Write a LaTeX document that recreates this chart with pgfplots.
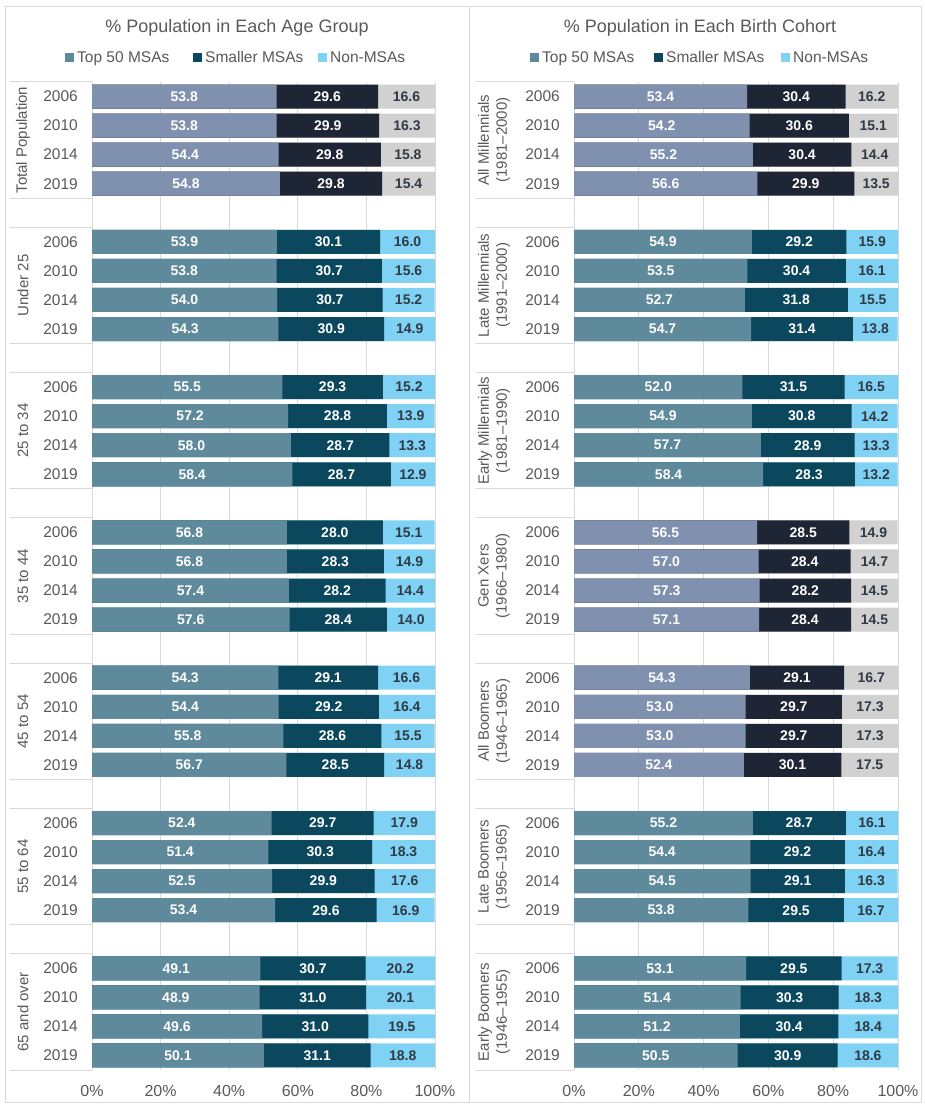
\documentclass[border=0pt]{standalone}
\usepackage{pgfplots}
\usepackage{pgfplotstable}
\pgfplotsset{compat=1.18}
\usepackage{fontspec}
\setmainfont{Liberation Sans}

\definecolor{tealA}{HTML}{5E8A9B}
\definecolor{tealB}{HTML}{0B485E}
\definecolor{tealC}{HTML}{7FD2F3}
\definecolor{greyA}{HTML}{7F91AE}
\definecolor{greyB}{HTML}{1E2534}
\definecolor{greyC}{HTML}{D1D1D1}
\definecolor{txt}{HTML}{595959}
\definecolor{labdark}{HTML}{2F3A46}
\definecolor{gridc}{HTML}{D9D9D9}

% y = row from the top, g = 1 for the summary groups drawn in grey
\pgfplotstableread{
y top small non g
0 53.8 29.6 16.6 1
1 53.8 29.9 16.3 1
2 54.4 29.8 15.8 1
3 54.8 29.8 15.4 1
5 53.9 30.1 16.0 0
6 53.8 30.7 15.6 0
7 54.0 30.7 15.2 0
8 54.3 30.9 14.9 0
10 55.5 29.3 15.2 0
11 57.2 28.8 13.9 0
12 58.0 28.7 13.3 0
13 58.4 28.7 12.9 0
15 56.8 28.0 15.1 0
16 56.8 28.3 14.9 0
17 57.4 28.2 14.4 0
18 57.6 28.4 14.0 0
20 54.3 29.1 16.6 0
21 54.4 29.2 16.4 0
22 55.8 28.6 15.5 0
23 56.7 28.5 14.8 0
25 52.4 29.7 17.9 0
26 51.4 30.3 18.3 0
27 52.5 29.9 17.6 0
28 53.4 29.6 16.9 0
30 49.1 30.7 20.2 0
31 48.9 31.0 20.1 0
32 49.6 31.0 19.5 0
33 50.1 31.1 18.8 0
}\agetable

\pgfplotstableread{
y top small non g
0 53.4 30.4 16.2 1
1 54.2 30.6 15.1 1
2 55.2 30.4 14.4 1
3 56.6 29.9 13.5 1
5 54.9 29.2 15.9 0
6 53.5 30.4 16.1 0
7 52.7 31.8 15.5 0
8 54.7 31.4 13.8 0
10 52.0 31.5 16.5 0
11 54.9 30.8 14.2 0
12 57.7 28.9 13.3 0
13 58.4 28.3 13.2 0
15 56.5 28.5 14.9 1
16 57.0 28.4 14.7 1
17 57.3 28.2 14.5 1
18 57.1 28.4 14.5 1
20 54.3 29.1 16.7 1
21 53.0 29.7 17.3 1
22 53.0 29.7 17.3 1
23 52.4 30.1 17.5 1
25 55.2 28.7 16.1 0
26 54.4 29.2 16.4 0
27 54.5 29.1 16.3 0
28 53.8 29.5 16.7 0
30 53.1 29.5 17.3 0
31 51.4 30.3 18.3 0
32 51.2 30.4 18.4 0
33 50.5 30.9 18.6 0
}\cohorttable

% segment ends and segment centres
\newcommand{\prep}[1]{%
  \pgfplotstablecreatecol[create col/expr={\thisrow{top}+\thisrow{small}}]{cs}{#1}%
  \pgfplotstablecreatecol[create col/expr={\thisrow{top}+\thisrow{small}+\thisrow{non}}]{cn}{#1}%
  \pgfplotstablecreatecol[create col/expr={\thisrow{top}/2}]{mt}{#1}%
  \pgfplotstablecreatecol[create col/expr={\thisrow{top}+\thisrow{small}/2}]{ms}{#1}%
  \pgfplotstablecreatecol[create col/expr={\thisrow{top}+\thisrow{small}+\thisrow{non}/2}]{mn}{#1}%
}
\prep{\agetable}
\prep{\cohorttable}

\pgfplotsset{
  panel/.style={
    scale only axis, height=988pt, anchor=north west,
    xmin=0, xmax=100, ymin=-0.5, ymax=33.5, y dir=reverse,
    xtick={0,20,40,60,80,100},
    xticklabels={0\%,20\%,40\%,60\%,80\%,100\%},
    xmajorgrids, major grid style={gridc, line width=1pt},
    axis line style={draw=none}, major tick length=0pt,
    ytick={0,1,2,3,5,6,7,8,10,11,12,13,15,16,17,18,20,21,22,23,25,26,27,28,30,31,32,33},
    yticklabels={2006,2010,2014,2019,2006,2010,2014,2019,2006,2010,2014,2019,
      2006,2010,2014,2019,2006,2010,2014,2019,2006,2010,2014,2019,2006,2010,2014,2019},
    yticklabel style={anchor=east, inner sep=0pt, xshift=-14pt,
      font=\fontsize{15.5}{18}\selectfont, text=txt},
    xticklabel style={anchor=north, inner sep=0pt, yshift=-15pt,
      font=\fontsize{16}{18}\selectfont, text=txt},
    clip=false,
  },
  seg/.style={xbar, bar width=24pt, bar shift=0pt, draw=none, fill=#1},
  tealrows/.style={restrict expr to domain={\thisrow{g}}{-0.5:0.5}},
  greyrows/.style={restrict expr to domain={\thisrow{g}}{0.5:1.5}},
  lab/.style={draw=none, mark=none,
    nodes near coords={\pgfmathprintnumber[fixed,fixed zerofill,precision=1,assume math mode=true]{\pgfplotspointmeta}},
    nodes near coords style={anchor=center, inner sep=0pt,
      font=\fontsize{14}{16}\selectfont\bfseries, text=#1}},
}

\newcommand{\panelplots}[1]{%
  \addplot[seg=tealC, tealrows] table[x=cn,y=y]{#1};
  \addplot[seg=greyC, greyrows] table[x=cn,y=y]{#1};
  \addplot[seg=tealB, tealrows] table[x=cs,y=y]{#1};
  \addplot[seg=greyB, greyrows] table[x=cs,y=y]{#1};
  \addplot[seg=tealA, tealrows] table[x=top,y=y]{#1};
  \addplot[seg=greyA, greyrows] table[x=top,y=y]{#1};
  \addplot[lab=white, point meta={\thisrow{top}}] table[x=mt,y=y]{#1};
  \addplot[lab=white, point meta={\thisrow{small}}] table[x=ms,y=y]{#1};
  \addplot[lab=labdark, point meta={\thisrow{non}}] table[x=mn,y=y]{#1};
}

\newcommand{\legitem}[3]{% x of square, colour, text
  \fill[#2] (#1pt,1043pt) rectangle ++(9pt,9pt);
  \node[anchor=base west, inner sep=0pt, text=txt, font=\fontsize{15.5}{18}\selectfont]
    at ([xshift=12pt]#1pt,1042pt) {#3};
}

\begin{document}
\begin{tikzpicture}
\path[use as bounding box] (0pt,0pt) rectangle (924pt,1105pt);
\draw[gridc, line width=1pt] (5pt,2pt) rectangle (469pt,1098pt);
\draw[gridc, line width=1pt] (469pt,2pt) rectangle (921pt,1098pt);

% titles and legends
\node[anchor=base, inner sep=0pt, text=txt, font=\fontsize{18}{21}\selectfont]
  at (237pt,1072pt) {\% Population in Each Age Group};
\node[anchor=base, inner sep=0pt, text=txt, font=\fontsize{18}{21}\selectfont]
  at (700pt,1072pt) {\% Population in Each Birth Cohort};
\legitem{65}{tealA}{Top 50 MSAs}
\legitem{193}{tealB}{Smaller MSAs}
\legitem{318}{tealC}{Non-MSAs}
\legitem{530}{tealA}{Top 50 MSAs}
\legitem{654}{tealB}{Smaller MSAs}
\legitem{781}{tealC}{Non-MSAs}

% age groups
\begin{axis}[panel, width=343pt, at={(92pt,1023pt)}]
  \panelplots{\agetable}
  \pgfplotsinvokeforeach{-0.5,3.5,4.5,8.5,9.5,13.5,14.5,18.5,19.5,23.5,24.5,28.5,29.5,33.5}{
    \draw[gridc, line width=1pt] ([xshift=-82pt]axis cs:0,#1) -- (axis cs:0,#1);
  }
  \tikzset{grp/.style={rotate=90, anchor=center, inner sep=0pt, text=txt,
    align=center, font=\fontsize{15}{18}\selectfont}}
  \node[grp] at ([xshift=-69pt]axis cs:0,1.5) {Total Population};
  \node[grp] at ([xshift=-69pt]axis cs:0,6.5) {Under 25};
  \node[grp] at ([xshift=-69pt]axis cs:0,11.5) {25 to 34};
  \node[grp] at ([xshift=-69pt]axis cs:0,16.5) {35 to 44};
  \node[grp] at ([xshift=-69pt]axis cs:0,21.5) {45 to 54};
  \node[grp] at ([xshift=-69pt]axis cs:0,26.5) {55 to 64};
  \node[grp] at ([xshift=-69pt]axis cs:0,31.5) {65 and over};
\end{axis}

% birth cohorts
\begin{axis}[panel, width=324pt, at={(574pt,1023pt)}]
  \panelplots{\cohorttable}
  \pgfplotsinvokeforeach{-0.5,3.5,4.5,8.5,9.5,13.5,14.5,18.5,19.5,23.5,24.5,28.5,29.5,33.5}{
    \draw[gridc, line width=1pt] ([xshift=-99pt]axis cs:0,#1) -- (axis cs:0,#1);
  }
  \tikzset{grp/.style={rotate=90, anchor=center, inner sep=0pt, text=txt,
    align=center, font=\fontsize{15}{18}\selectfont}}
  \node[grp] at ([xshift=-80pt]axis cs:0,1.5) {All Millennials\\(1981–2000)};
  \node[grp] at ([xshift=-80pt]axis cs:0,6.5) {Late Millennials\\(1991–2000)};
  \node[grp] at ([xshift=-80pt]axis cs:0,11.5) {Early Millennials\\(1981–1990)};
  \node[grp] at ([xshift=-80pt]axis cs:0,16.5) {Gen Xers\\(1966–1980)};
  \node[grp] at ([xshift=-80pt]axis cs:0,21.5) {All Boomers\\(1946–1965)};
  \node[grp] at ([xshift=-80pt]axis cs:0,26.5) {Late Boomers\\(1956–1965)};
  \node[grp] at ([xshift=-80pt]axis cs:0,31.5) {Early Boomers\\(1946–1955)};
\end{axis}
\end{tikzpicture}
\end{document}
